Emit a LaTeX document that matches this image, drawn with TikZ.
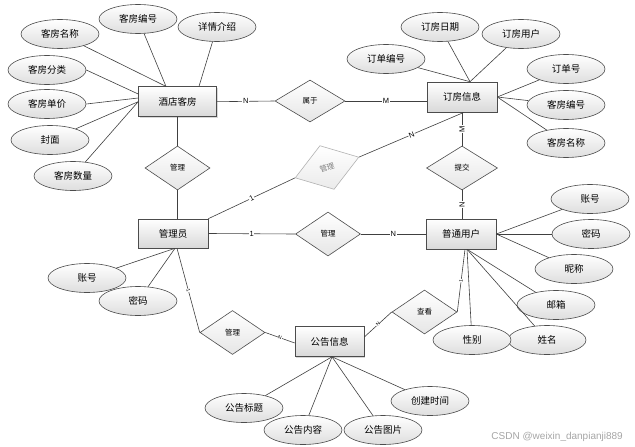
\documentclass[tikz,border=0pt]{standalone}
\usepackage{fontspec}
\setmainfont{Liberation Sans}
\newfontfamily\cjk{Noto Sans CJK SC}
\usetikzlibrary{shapes.geometric,shadows}
\begin{document}
\begin{tikzpicture}[x=1pt,y=-1pt,
  conn/.style={draw=black!75, line width=0.6pt},
  entity/.style={draw=black!70, line width=0.6pt, rectangle, minimum width=70pt, minimum height=30pt, inner sep=0pt, top color=white, bottom color=black!15, font=\cjk\fontsize{9.5}{11}\selectfont, drop shadow={opacity=0.3, shadow xshift=1pt, shadow yshift=-1pt}},
  attr/.style={draw=black!70, line width=0.6pt, ellipse, minimum width=78pt, minimum height=29pt, inner sep=0pt, top color=white, bottom color=black!13, font=\cjk\fontsize{9.5}{11}\selectfont},
  rel/.style={draw=black!70, line width=0.6pt, diamond, minimum width=65pt, minimum height=44pt, inner sep=0pt, top color=white, bottom color=black!10, font=\cjk\fontsize{7.5}{9}\selectfont},
  card/.style={fill=white, inner sep=0.6pt, font=\fontsize{7.5}{8}\selectfont},
  tinycard/.style={fill=white, inner sep=0.3pt, font=\fontsize{5}{6}\selectfont, sloped},
]
\useasboundingbox (0,0) rectangle (635,447);
\fill[white] (0,0) rectangle (635,447);

% entities
\node[entity, minimum width=78pt] (hotel) at (177.5,101.7) {酒店客房};
\node[entity] (order) at (462,97) {订房信息};
\node[entity, minimum height=29pt] (admin) at (173,233.5) {管理员};
\node[entity] (user) at (461,234) {普通用户};
\node[entity, minimum width=69pt] (notice) at (329.5,341.5) {公告信息};

% relationships
\node[rel, minimum width=70pt, minimum height=42pt] (belong) at (310,101) {属于};
\node[rel] (mngA) at (177.5,168) {管理};
\node[rel, minimum width=71pt] (submit) at (462,168) {提交};
\node[rel] (mngB) at (328,234) {管理};
\node[rel] (mngC) at (232.5,332.5) {管理};
\node[rel] (view) at (424.5,312) {查看};
\node[rel, draw=black!30, rotate=18, minimum width=67pt, minimum height=46pt, text=black!50, top color=white, bottom color=black!8] (mngD) at (327,167.5) {管理};

% hotel attributes
\node[attr] (hName) at (60,34) {客房名称};
\node[attr] (hNo) at (138,19) {客房编号};
\node[attr] (hDesc) at (217,27) {详情介绍};
\node[attr] (hCat) at (47,70) {客房分类};
\node[attr] (hPrice) at (47,104) {客房单价};
\node[attr] (hCover) at (50,140) {封面};
\node[attr] (hQty) at (73,176) {客房数量};

% order attributes
\node[attr] (oDate) at (440,27) {订房日期};
\node[attr] (oUser) at (521,34) {订房用户};
\node[attr] (oNo) at (386,59) {订单编号};
\node[attr] (oId) at (566,69) {订单号};
\node[attr] (oRoomNo) at (566,105) {客房编号};
\node[attr] (oRoomName) at (566,143) {客房名称};

% user attributes
\node[attr] (uAcc) at (590,199) {账号};
\node[attr] (uPwd) at (591,234) {密码};
\node[attr] (uNick) at (574,269) {昵称};
\node[attr] (uMail) at (556,305) {邮箱};
\node[attr] (uName) at (547,340) {姓名};
\node[attr] (uSex) at (472,340) {性别};

% admin attributes
\node[attr] (aPwd) at (138,301) {密码};
\node[attr] (aAcc) at (87,278) {账号};

% notice attributes
\node[attr] (nTitle) at (244,408) {公告标题};
\node[attr] (nBody) at (303,430) {公告内容};
\node[attr] (nPic) at (383,430) {公告图片};
\node[attr] (nTime) at (430,401) {创建时间};

% attribute connectors
\draw[conn] (hName) -- ([xshift=-11.5pt]hotel.north);
\draw[conn] (hNo) -- ([xshift=-11.5pt]hotel.north);
\draw[conn] (hDesc) -- ([xshift=21.5pt]hotel.north);
\draw[conn] (hCat.east) -- ([yshift=7.7pt]hotel.west);
\draw[conn] (hPrice.east) -- ([yshift=3.7pt]hotel.west);
\draw[conn] (hCover) -- (hotel.west);
\draw[conn] (hQty) -- (hotel.west);

\draw[conn] (oDate) -- ([xshift=8pt]order.north);
\draw[conn] (oUser) -- ([xshift=8pt]order.north);
\draw[conn] (oNo) -- ([xshift=8pt]order.north);
\draw[conn] (oId) -- (order.east);
\draw[conn] (oRoomNo) -- (order.east);
\draw[conn] (oRoomName) -- (order.east);

\draw[conn] (uAcc) -- (user.east);
\draw[conn] (uPwd) -- (user.east);
\draw[conn] (uNick) -- (user.east);
\draw[conn] (uMail) -- ([xshift=6pt]user.south);
\draw[conn] (uSex) -- ([xshift=6pt]user.south);
\draw[conn] (uName) -- ([xshift=6pt]user.south);

\draw[conn] (aAcc) -- ([xshift=2pt]admin.south);
\draw[conn] (aPwd) -- ([xshift=2pt]admin.south);

\draw[conn] (nTitle) -- ([xshift=2.5pt]notice.south);
\draw[conn] (nBody) -- ([xshift=2.5pt]notice.south);
\draw[conn] (nPic) -- ([xshift=2.5pt]notice.south);
\draw[conn] (nTime) -- ([xshift=2.5pt]notice.south);

% relationship connectors
\draw[conn] (hotel.east) -- node[card]{N} (belong.west);
\draw[conn] (belong.east) -- node[card]{M} (belong.east -| order.west);
\draw[conn] (hotel.south) -- (mngA.north);
\draw[conn] (mngA.south) -- (mngA.south |- admin.north);
\draw[conn] (order.south) -- node[card, rotate=90]{M} (submit.north);
\draw[conn] (submit.south) -- node[card, rotate=90]{N} (submit.south |- user.north);
\draw[conn] (admin.east) -- node[card]{1} (mngB.west);
\draw[conn] (mngB.east) -- node[card]{N} (user.west);
\draw[conn] (admin.north east) -- node[card, sloped]{1} (mngD.west);
\draw[conn] (mngD.east) -- node[card, sloped]{N} ([xshift=2pt]order.south);
\draw[conn] ([xshift=4pt]admin.south) -- node[tinycard]{1} (mngC.west);
\draw[conn] (mngC.east) -- node[tinycard]{N} ([yshift=-1.5pt]notice.west);
\draw[conn] ([yshift=4.5pt]notice.east) -- node[tinycard]{N} (view.west);
\draw[conn] (view.east) -- node[tinycard]{1} ([xshift=4pt]user.south);

% watermark
\node[text=black!35, font=\fontsize{10}{12}\selectfont, anchor=east, inner sep=0pt] (wm) at (623,437) {CSDN @weixin\_danpianji889};
\end{tikzpicture}
\end{document}
